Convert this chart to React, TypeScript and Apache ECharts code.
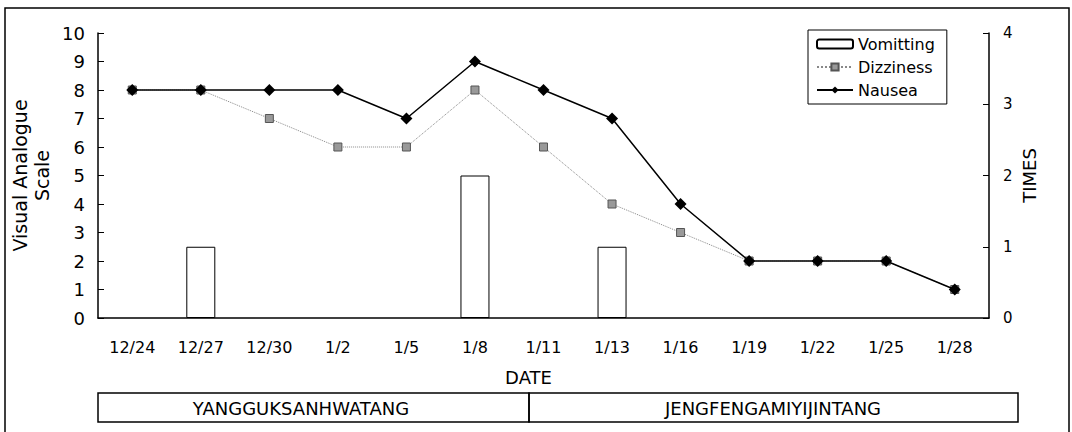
import React, { useEffect, useRef } from "react";
import * as echarts from "echarts";

const dates = ["12/24", "12/27", "12/30", "1/2", "1/5", "1/8", "1/11", "1/13", "1/16", "1/19", "1/22", "1/25", "1/28"];
const vomitting = ["-", 1, "-", "-", "-", 2, "-", 1, "-", "-", "-", "-", "-"];
const dizziness = [8, 8, 7, 6, 6, 8, 6, 4, 3, 2, 2, 2, 1];
const nausea = [8, 8, 8, 8, 7, 9, 8, 7, 4, 2, 2, 2, 1];
const leftTicks = { min: 0, max: 10, interval: 1 };
const rightTicks = { min: 0, max: 4, interval: 1 };
const phases = ["YANGGUKSANHWATANG", "JENGFENGAMIYIJINTANG"];

const FONT = "DejaVu Sans";

export default function App() {
  const ref = useRef<HTMLDivElement>(null);
  useEffect(() => {
    if (!ref.current) return;
    const chart = echarts.init(ref.current, null, { renderer: "svg" });
    chart.setOption({
      animation: false,
      backgroundColor: "#fff",
      textStyle: { fontFamily: FONT, color: "#000" },
      grid: { left: 98, right: 83, top: 33, bottom: 114, outerBoundsMode: "none", containLabel: false },
      legend: {
        orient: "vertical",
        left: 808,
        top: 30,
        width: 137,
        borderColor: "#000",
        borderWidth: 1,
        padding: [6, 12, 6, 8],
        itemGap: 7,
        itemWidth: 36,
        itemHeight: 9,
        textStyle: { fontFamily: FONT, fontSize: 16, color: "#000" },
        data: ["Vomitting", "Dizziness", "Nausea"],
      },
      xAxis: {
        type: "category",
        data: dates,
        axisLine: { lineStyle: { color: "#000", width: 1.5 } },
        axisTick: { show: false },
        axisLabel: { fontSize: 16, color: "#000", margin: 21, fontFamily: FONT },
        name: "DATE",
        nameLocation: "middle",
        nameGap: 50,
        nameTextStyle: { fontSize: 18, color: "#000", fontFamily: FONT, padding: [0, 30, 0, 0] },
      },
      yAxis: [
        {
          type: "value",
          ...leftTicks,
          splitLine: { show: false },
          axisLine: { show: true, lineStyle: { color: "#000", width: 1.5 } },
          axisTick: { show: true, inside: true, length: 6, lineStyle: { color: "#000" } },
          axisLabel: { fontSize: 18, color: "#000", margin: 13, fontFamily: FONT },
          name: "Visual Analogue\nScale",
          nameLocation: "middle",
          nameRotate: 90,
          nameGap: 45,
          nameMoveOverlap: false,
          nameTextStyle: { fontSize: 19, color: "#000", fontFamily: FONT, lineHeight: 22 },
        },
        {
          type: "value",
          position: "right",
          ...rightTicks,
          splitLine: { show: false },
          axisLine: { show: true, lineStyle: { color: "#000", width: 1.5 } },
          axisTick: { show: true, inside: true, length: 6, lineStyle: { color: "#000" } },
          axisLabel: { fontSize: 15, color: "#000", margin: 14, fontFamily: FONT },
          name: "TIMES",
          nameLocation: "middle",
          nameRotate: 90,
          nameGap: 31,
          nameMoveOverlap: false,
          nameTextStyle: { fontSize: 18, color: "#000", fontFamily: FONT },
        },
      ],
      series: [
        {
          name: "Vomitting",
          type: "bar",
          yAxisIndex: 1,
          data: vomitting,
          barWidth: 29,
          itemStyle: { color: "#fff", borderColor: "#000", borderWidth: 1 },
        },
        {
          name: "Dizziness",
          type: "line",
          yAxisIndex: 0,
          data: dizziness,
          symbol: "rect",
          symbolSize: 8,
          lineStyle: { color: "#888", width: 1, type: "dotted" },
          itemStyle: { color: "#999", borderColor: "#555", borderWidth: 1 },
          z: 3,
        },
        {
          name: "Nausea",
          type: "line",
          yAxisIndex: 0,
          data: nausea,
          symbol: "diamond",
          symbolSize: 12,
          lineStyle: { color: "#000", width: 1.5 },
          itemStyle: { color: "#000" },
          z: 4,
        },
      ],
      graphic: [
        {
          type: "rect",
          shape: { x: 5, y: 8, width: 1064, height: 430 },
          style: { fill: "none", stroke: "#000", lineWidth: 1.5 },
          silent: true,
        },
        {
          type: "rect",
          shape: { x: 98, y: 393, width: 431, height: 29 },
          style: { fill: "none", stroke: "#000", lineWidth: 1.5 },
        },
        {
          type: "rect",
          shape: { x: 529, y: 393, width: 489, height: 29 },
          style: { fill: "none", stroke: "#000", lineWidth: 1.5 },
        },
        {
          type: "text",
          x: 301,
          y: 408,
          style: { text: phases[0], fontSize: 18, fontFamily: FONT, fill: "#000", align: "center", verticalAlign: "middle" },
        },
        {
          type: "text",
          x: 773,
          y: 408,
          style: { text: phases[1], fontSize: 18, fontFamily: FONT, fill: "#000", align: "center", verticalAlign: "middle" },
        },
      ],
    });
    return () => chart.dispose();
  }, []);
  return <div ref={ref} style={{ position: "fixed", left: 0, top: 0, width: 1072, height: 432 }} />;
}
